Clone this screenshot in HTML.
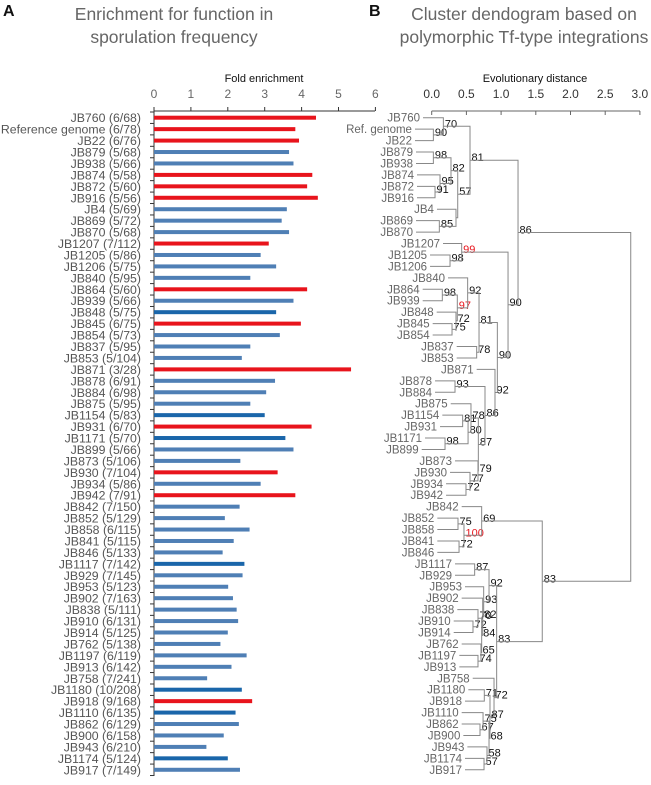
<!DOCTYPE html>
<html><head><meta charset="utf-8"><style>
body{margin:0;background:#fff;}
svg{display:block;font-family:"Liberation Sans",sans-serif;}
</style></head><body>
<svg id="fig" width="651" height="785" viewBox="0 0 651 785">
<text x="3" y="16" font-size="16" font-weight="bold" fill="#111">A</text>
<text x="369" y="16" font-size="16" font-weight="bold" fill="#111">B</text>
<g font-size="17.5" fill="#666" text-anchor="middle">
<text x="174" y="20">Enrichment for function in</text>
<text x="174" y="43">sporulation frequency</text></g>
<g font-size="17.5" fill="#666" text-anchor="middle">
<text x="524" y="20">Cluster dendogram based on</text>
<text x="524" y="43">polymorphic Tf-type integrations</text></g>
<text x="264" y="82" font-size="11" text-anchor="middle" fill="#111">Fold enrichment</text>
<text x="535" y="82" font-size="11" text-anchor="middle" fill="#111">Evolutionary distance</text>
<g id="barChart"></g>
<g id="dendro"></g>
</svg>
<script>
const names=["JB760 (6/68)","Reference genome (6/78)","JB22 (6/76)","JB879 (5/68)","JB938 (5/66)","JB874 (5/58)","JB872 (5/60)","JB916 (5/56)","JB4 (5/69)","JB869 (5/72)","JB870 (5/68)","JB1207 (7/112)","JB1205 (5/86)","JB1206 (5/75)","JB840 (5/95)","JB864 (5/60)","JB939 (5/66)","JB848 (5/75)","JB845 (6/75)","JB854 (5/73)","JB837 (5/95)","JB853 (5/104)","JB871 (3/28)","JB878 (6/91)","JB884 (6/98)","JB875 (5/95)","JB1154 (5/83)","JB931 (6/70)","JB1171 (5/70)","JB899 (5/66)","JB873 (5/106)","JB930 (7/104)","JB934 (5/86)","JB942 (7/91)","JB842 (7/150)","JB852 (5/129)","JB858 (6/115)","JB841 (5/115)","JB846 (5/133)","JB1117 (7/142)","JB929 (7/145)","JB953 (5/123)","JB902 (7/163)","JB838 (5/111)","JB910 (6/131)","JB914 (5/125)","JB762 (5/138)","JB1197 (6/119)","JB913 (6/142)","JB758 (7/241)","JB1180 (10/208)","JB918 (9/168)","JB1110 (6/135)","JB862 (6/129)","JB900 (6/158)","JB943 (6/210)","JB1174 (5/124)","JB917 (7/149)"];
const foldValues=[4.39,3.83,3.93,3.66,3.78,4.29,4.15,4.44,3.60,3.46,3.66,3.11,2.89,3.31,2.61,4.15,3.78,3.31,3.98,3.41,2.61,2.38,5.34,3.28,3.04,2.61,3.00,4.27,3.56,3.78,2.34,3.35,2.89,3.83,2.32,1.92,2.59,2.16,1.86,2.45,2.40,2.01,2.14,2.24,2.28,2.00,1.80,2.51,2.10,1.44,2.38,2.66,2.21,2.30,1.89,1.42,2.00,2.33];
// 0 = normal blue, 1 = significant (red), 2 = dark blue
const barClass=[1,1,1,0,0,1,1,1,0,0,0,1,0,0,0,1,0,2,1,0,0,0,1,0,0,0,2,1,2,0,0,1,0,1,0,0,0,0,0,2,0,0,0,0,0,0,0,0,0,0,2,1,2,0,0,0,2,0];
const foldTicks=[0,1,2,3,4,5,6];
const distTicks=["0.0","0.5","1.0","1.5","2.0","2.5","3.0"];
// dendrogram leaf start distances (same row order as names)
const leafDist=[-0.125,-0.241,-0.241,-0.226,-0.226,-0.212,-0.212,-0.212,0.076,-0.226,-0.226,0.163,-0.024,-0.024,0.235,-0.130,-0.130,0.072,0.014,0.014,0.360,0.360,0.648,0.048,0.048,0.274,0.153,0.120,-0.096,-0.144,0.336,0.264,0.207,0.207,0.432,0.081,0.081,0.081,0.081,0.336,0.336,0.480,0.432,0.369,0.317,0.317,0.432,0.398,0.398,0.591,0.528,0.480,0.432,0.432,0.456,0.514,0.480,0.480];
const leafShort=["JB760","Ref. genome","JB22","JB879","JB938","JB874","JB872","JB916","JB4","JB869","JB870","JB1207","JB1205","JB1206","JB840","JB864","JB939","JB848","JB845","JB854","JB837","JB853","JB871","JB878","JB884","JB875","JB1154","JB931","JB1171","JB899","JB873","JB930","JB934","JB942","JB842","JB852","JB858","JB841","JB846","JB1117","JB929","JB953","JB902","JB838","JB910","JB914","JB762","JB1197","JB913","JB758","JB1180","JB918","JB1110","JB862","JB900","JB943","JB1174","JB917"];
// internal nodes: [id, childA, childB, distance, bootstrap, red]
const nodes=[
["a90",1,2,0.024,"90",0],["a70",0,"a90",0.168,"70",0],["a98",3,4,0.024,"98",0],["a91",6,7,0.048,"91",0],["a95",5,"a91",0.120,"95",0],["a82","a98","a95",0.278,"82",0],["a85",9,10,0.110,"85",0],["a4",8,"a85",0.350,"",0],["a57","a82","a4",0.375,"57",0],["a81","a70","a57",0.552,"81",0],
["b98",12,13,0.264,"98",0],["b99",11,"b98",0.432,"99",1],["c98",15,16,0.153,"98",0],["c75",18,19,0.293,"75",0],["c72",17,"c75",0.350,"72",0],["c97","c98","c72",0.369,"97",1],["c92",14,"c97",0.518,"92",0],["c78",20,21,0.648,"78",0],["c81","c92","c78",0.682,"81",0],
["d93",23,24,0.336,"93",0],["d81",26,27,0.446,"81",0],["d98",28,29,0.192,"98",0],["d80","d81","d98",0.524,"80",0],["d78",25,"d80",0.566,"78",0],["e72",32,33,0.494,"72",0],["e77",31,"e72",0.552,"77",0],["e79",30,"e77",0.667,"79",0],["d87","d78","e79",0.672,"87",0],["d86","d93","d87",0.768,"86",0],["d92",22,"d86",0.912,"92",0],["c90","c81","d92",0.946,"90",0],["b90","b99","c90",1.100,"90",0],["r86","a81","b90",1.244,"86",0],
["f75",35,36,0.379,"75",0],["f72",37,38,0.394,"72",0],["f100","f75","f72",0.465,"100",1],["f69",34,"f100",0.720,"69",0],
["g87",39,40,0.619,"87",0],["g72",44,45,0.595,"72",0],["g70",43,"g72",0.667,"70",0],["g74",47,48,0.667,"74",0],["g65",46,"g74",0.710,"65",0],["g84","g70","g65",0.720,"84",0],["g82",42,"g84",0.735,"82",0],["g93",41,"g82",0.749,"93",0],["g92","g87","g93",0.826,"92",0],
["h71",50,51,0.758,"71",0],["h67",53,54,0.696,"67",0],["h75",52,"h67",0.740,"75",0],["h57",56,57,0.754,"57",0],["h58",55,"h57",0.797,"58",0],["h68","h75","h58",0.826,"68",0],["h87","h71","h68",0.840,"87",0],["h72",49,"h87",0.898,"72",0],["g83","g92","h72",0.936,"83",0],["f83","f69","g83",1.593,"83",0],["root","r86","f83",2.868,"",0]];

const NS="http://www.w3.org/2000/svg";
function mk(tag,attrs,parent){const e=document.createElementNS(NS,tag);for(const k in attrs)e.setAttribute(k,attrs[k]);parent.appendChild(e);return e;}
const rowY=i=>117.7+i*11.44;
// ----- bar chart
const bc=document.getElementById('barChart');
const xA=v=>154+v*36.9;
const axT=mk('line',{x1:154,y1:111,x2:375,y2:111,stroke:'#333','stroke-width':1},bc);


foldTicks.forEach(t=>{
  const l=mk('line',{x1:xA(t),y1:107,x2:xA(t),y2:111,stroke:'#333'},bc);
  
  
  const tx=mk('text',{x:xA(t),y:98,'font-size':12,'text-anchor':'middle',fill:'#666'},bc);
  tx.textContent=t;
  
  
});
const axL=mk('line',{x1:154,y1:111,x2:154,y2:776,stroke:'#333'},bc);


for(let i=0;i<=names.length;i++){
  const l=mk('line',{x1:150,y1:rowY(i)-5.7,x2:154,y2:rowY(i)-5.7,stroke:'#333'},bc);
  
  
}
const cols=['#4f7fb5','#e8141c','#1a66aa'];
names.forEach((n,i)=>{
  const tx=mk('text',{x:141,y:rowY(i)+4.5,'font-size':12.3,'text-anchor':'end',fill:'#555'},bc);
  tx.textContent=n;
  
  
  const r=mk('rect',{x:154,y:rowY(i)-2,width:xA(foldValues[i])-154,height:4,fill:cols[barClass[i]]},bc);
  
  
});
// ----- dendrogram
const dg=document.getElementById('dendro');
const xB=d=>431.7+d*69.4;
const axB=mk('line',{x1:431.7,y1:111,x2:640,y2:111,stroke:'#666'},dg);


distTicks.forEach(t=>{
  const x=xB(parseFloat(t));
  const l=mk('line',{x1:x,y1:111,x2:x,y2:115,stroke:'#666'},dg);
  
  
  const tx=mk('text',{x:x,y:98,'font-size':12,'text-anchor':'middle',fill:'#333'},dg);
  tx.textContent=t;
  
  
});
const pos={};
leafShort.forEach((n,i)=>{pos[i]={x:xB(leafDist[i]),y:rowY(i)};
  const tx=mk('text',{x:xB(leafDist[i])-3,y:rowY(i)+4,'font-size':11.5,'text-anchor':'end',fill:'#666'},dg);
  tx.textContent=n;
  
  
});
nodes.forEach(nd=>{
  const [id,a,b,d,lab,red]=nd;
  const A=pos[a],B=pos[b],x=xB(d);
  const y=(A.y+B.y)/2;pos[id]={x:x,y:y};
  const p=mk('path',{d:`M${A.x},${A.y}H${x}V${B.y}H${B.x}`,fill:'none',stroke:'#888','stroke-width':1},dg);
  
  
  if(lab){const tx=mk('text',{x:x+1.5,y:y+1,'font-size':11,fill:red?'#e8141c':'#111'},dg);
    tx.textContent=lab;
    
    }
});
</script>
</body></html>
